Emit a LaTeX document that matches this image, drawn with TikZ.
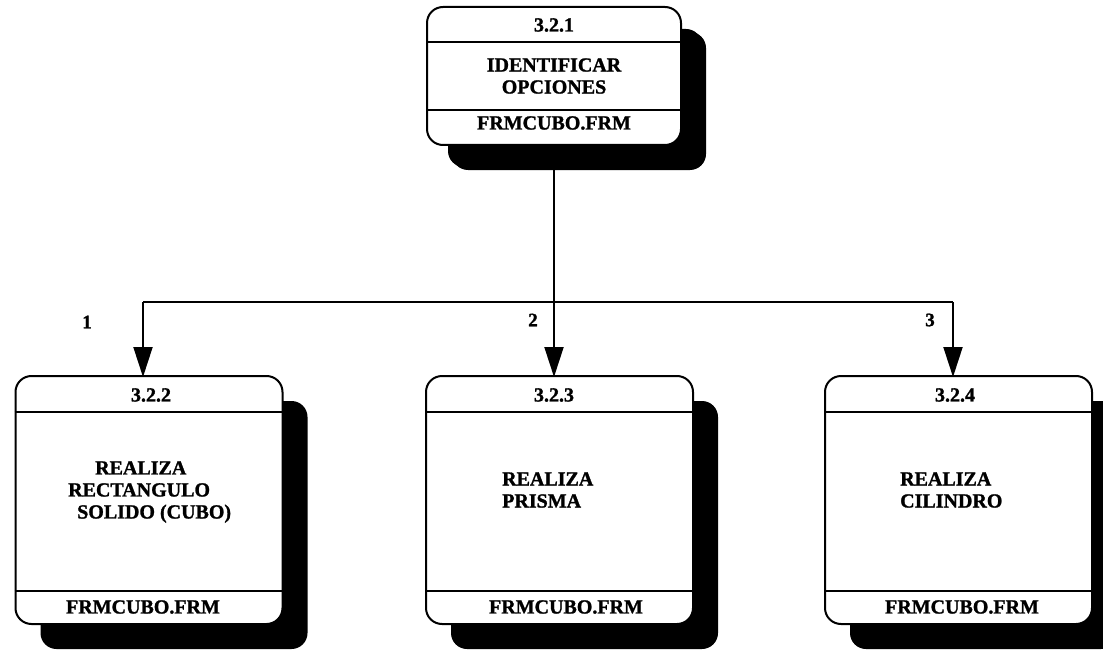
\documentclass[tikz,border=0pt]{standalone}
\usepackage{fontspec}
\setmainfont{Liberation Serif}[BoldFeatures={FakeBold=1.3}]
\usetikzlibrary{arrows.meta,shadows,calc}
\begin{document}
\begin{tikzpicture}[x=1pt,y=-1pt,
  procbox/.style={draw=black, line width=2pt, fill=white, rounded corners=16pt, inner sep=0pt,
    drop shadow={shadow xshift=25pt, shadow yshift=-25pt, fill=black, opacity=1}},
  topbox/.style={procbox, drop shadow={shadow xshift=21pt, shadow yshift=-22pt, fill=black, opacity=1},
    minimum width=254pt, minimum height=138pt},
  lowbox/.style={procbox, minimum width=267pt, minimum height=248pt},
  txt/.style={font=\fontsize{20}{22}\selectfont\bfseries, inner sep=0pt, align=center},
  midtxt/.style={txt, align=left, anchor=west},
  lbl/.style={font=\fontsize{19}{20}\selectfont\bfseries, inner sep=0pt},
  sep/.style={line width=2.2pt},
  conn/.style={line width=2pt},
  arr/.style={-{Triangle[length=30pt,width=19pt]}}
]
\useasboundingbox (0,0) rectangle (1103,650);
\clip (0,0) rectangle (1103,650);
\fill[white] (0,0) rectangle (1103,650);

% top box
\node[topbox] (p1) at (554,76) {};
\draw[sep] ($(p1.north west)+(0,36)$) -- ($(p1.north east)+(0,36)$);
\draw[sep] ($(p1.south west)+(0,-36)$) -- ($(p1.south east)+(0,-36)$);
\node[txt] (p1id) at (554,25) {3.2.1};
\node[txt] (p1t) at (554,76) {IDENTIFICAR\\OPCIONES};
\node[txt] (p1f) at (554,123) {FRMCUBO.FRM};

% bottom boxes
\node[lowbox] (p2) at (149,500) {};
\node[lowbox] (p3) at (559.5,500) {};
\node[lowbox] (p4) at (958.5,500) {};
\foreach \b in {p2,p3,p4}{
  \draw[sep] ($(\b.north west)+(0,37)$) -- ($(\b.north east)+(0,37)$);
  \draw[sep] ($(\b.south west)+(0,-34)$) -- ($(\b.south east)+(0,-34)$);
}
\node[txt] (p2id) at (151,395) {3.2.2};
\node[txt] (p3id) at (554,395) {3.2.3};
\node[txt] (p4id) at (955,395) {3.2.4};
\node[midtxt] (p2t) at (68,492) {\hspace*{27pt}REALIZA\\RECTANGULO\\\hspace*{9pt}SOLIDO (CUBO)};
\node[midtxt] (p3t) at (502,490) {REALIZA\\PRISMA};
\node[midtxt] (p4t) at (900,490) {REALIZA\\CILINDRO};
\node[txt] (p2f) at (143,607) {FRMCUBO.FRM};
\node[txt] (p3f) at (566,607) {FRMCUBO.FRM};
\node[txt] (p4f) at (962,607) {FRMCUBO.FRM};

% connectors
\coordinate (bl) at (143,302);
\coordinate (br) at (953,302);
\coordinate (a1) at (143,377);
\coordinate (a2) at (554,377);
\coordinate (a3) at (953,377);
\draw[conn] (bl) -- (br);
\draw[conn,arr] (p1.south) -- (a2);
\draw[conn,arr] (bl) -- (a1);
\draw[conn,arr] (br) -- (a3);

% labels
\node[lbl] (l1) at (87,322) {1};
\node[lbl] (l2) at (533,320) {2};
\node[lbl] (l3) at (930,320) {3};
\end{tikzpicture}
\end{document}
